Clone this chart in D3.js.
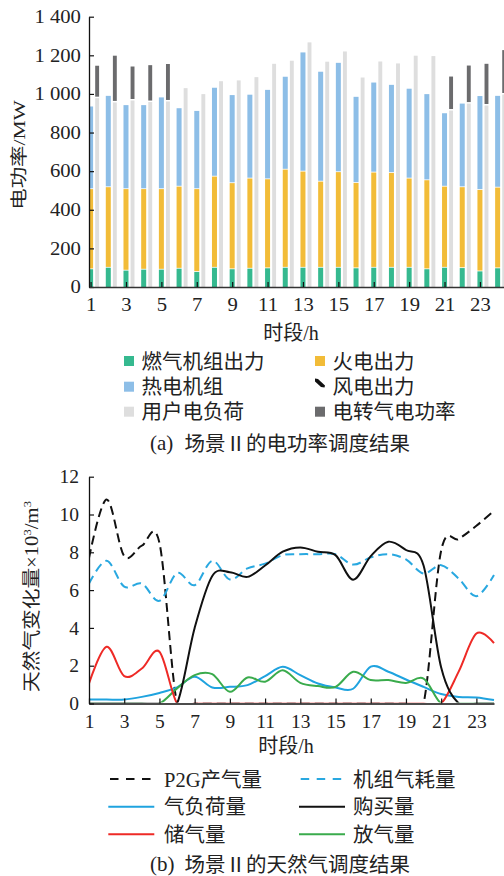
<!DOCTYPE html>
<html>
<head>
<meta charset="utf-8">
<script src="https://cdn.jsdelivr.net/npm/d3@7"></script>
<style>
body { margin: 0; background: #fff; }
svg { display: block; }
text { font-family: "Liberation Serif", "Noto Sans CJK SC", serif; fill: #222; }
</style>
</head>
<body>
<div id="chart"></div>
<script>
// ---- (a) electric power dispatch, MW ----
var hours = [1, 2, 3, 4, 5, 6, 7, 8, 9, 10, 11, 12, 13, 14, 15, 16, 17, 18, 19, 20, 21, 22, 23, 24];
var gasTurbine = [92, 100, 85, 90, 90, 95, 78, 100, 92, 95, 97, 100, 100, 100, 100, 97, 100, 100, 100, 92, 100, 98, 81, 97];
var thermalPower = [415, 417, 422, 417, 417, 425, 429, 472, 446, 467, 461, 508, 498, 446, 495, 442, 493, 491, 462, 461, 420, 419, 422, 418];
var chpUnit = [428, 473, 435, 435, 475, 406, 405, 460, 456, 434, 463, 481, 617, 569, 566, 446, 466, 456, 465, 446, 380, 433, 486, 475];
var windPower = [0, 0, 0, 0, 0, 0, 0, 0, 0, 0, 0, 0, 0, 0, 0, 0, 0, 0, 0, 0, 0, 0, 0, 0];
var userLoad = [978, 956, 966, 958, 961, 1030, 999, 1066, 1070, 1087, 1156, 1172, 1267, 1167, 1220, 1085, 1168, 1158, 1198, 1196, 914, 950, 940, 997];
var p2gPower = [168, 242, 176, 191, 194, 0, 0, 0, 0, 0, 0, 0, 0, 0, 0, 0, 0, 0, 0, 0, 176, 197, 216, 230];
var yTicksA = [0, 200, 400, 600, 800, 1000, 1200, 1400];
var yTickLabelsA = ["0", "200", "400", "600", "800", "1 000", "1 200", "1 400"];
var xTicks = [1, 3, 5, 7, 9, 11, 13, 15, 17, 19, 21, 23];

// ---- (b) natural gas dispatch, 10^3 m^3 ----
var p2gGas = [7.7, 10.8, 7.8, 8.35, 8.5, 0, 0, 0, 0, 0, 0, 0, 0, 0, 0, 0, 0, 0, 0, 0, 8.1, 8.7, 9.4, 10.2];
var unitGas = [6.35, 7.55, 6.18, 6.35, 5.43, 6.9, 6.26, 7.55, 6.56, 7.15, 7.4, 7.85, 7.9, 7.9, 7.9, 7.35, 7.73, 7.9, 7.62, 6.88, 7.32, 6.6, 5.68, 6.8];
var gasLoad = [0.21, 0.21, 0.21, 0.35, 0.56, 0.85, 1.41, 0.85, 0.88, 0.97, 1.45, 1.94, 1.5, 1.06, 0.85, 0.78, 1.95, 1.68, 1.27, 0.88, 0.5, 0.35, 0.32, 0.18];
var purchase = [0, 0, 0, 0, 0, 0, 4.0, 6.75, 6.95, 6.7, 7.3, 8.03, 8.26, 8.03, 7.85, 6.55, 7.8, 8.56, 8.12, 7.3, 1.9, 0, 0, 0];
var storage = [1.06, 3.0, 1.45, 1.85, 2.74, 0, 0, 0, 0, 0, 0, 0, 0, 0, 0, 0, 0, 0, 0, 0, 0, 1.7, 3.7, 3.2];
var release = [0, 0, 0, 0, 0, 0.8, 1.5, 1.55, 0.62, 1.38, 1.15, 1.76, 1.09, 0.92, 0.88, 1.68, 1.24, 1.24, 1.09, 1.32, 0, 0, 0, 0];
var yTicksB = [0, 2, 4, 6, 8, 10, 12];

var svg = d3.select("#chart").append("svg")
  .attr("width", 504)
  .attr("height", 876);

// ================= (a) =================
var xa = d3.scaleLinear().domain([0.91, 24.36]).range([89, 504]);
var ya = d3.scaleLinear().domain([0, 1400]).range([287, 16.7]);

svg.append("clipPath").attr("id", "clipA")
  .append("rect").attr("x", 89).attr("y", 0).attr("width", 415).attr("height", 287);

var rows = hours.map(function(h, i) {
  return { hour: h, gas: gasTurbine[i], thermal: thermalPower[i], chp: chpUnit[i], wind: windPower[i] };
});
var series = d3.stack().keys(["gas", "thermal", "chp", "wind"])(rows);
var colorA = { gas: "#35b98f", thermal: "#f2bc38", chp: "#8dbee7", wind: "#111" };

var gA = svg.append("g").attr("clip-path", "url(#clipA)");

series.forEach(function(s) {
  gA.selectAll(null)
    .data(s.filter(function(d) { return d[1] > d[0]; }))
    .enter().append("rect")
    .attr("x", function(d) { return xa(d.data.hour) - 2.5; })
    .attr("width", 5)
    .attr("y", function(d) { return ya(d[1]); })
    .attr("height", function(d) { return ya(d[0]) - ya(d[1]) - (d[0] > 0 ? 0.8 : 0); })
    .attr("fill", colorA[s.key]);
});

// user load bars
gA.selectAll(".load")
  .data(hours)
  .enter().append("rect")
  .attr("class", "load")
  .attr("x", function(h) { return xa(h) + 4.6; })
  .attr("width", 3.9)
  .attr("y", function(h, i) { return ya(userLoad[i]); })
  .attr("height", function(h, i) { return ya(0) - ya(userLoad[i]); })
  .attr("fill", "#dedede");

// power-to-gas bars on top of the load
gA.selectAll(".p2g")
  .data(hours.filter(function(h, i) { return p2gPower[i] > 0; }))
  .enter().append("rect")
  .attr("class", "p2g")
  .attr("x", function(h) { return xa(h) + 4.6; })
  .attr("width", 3.9)
  .attr("y", function(h) { var i = h - 1; return ya(userLoad[i] + p2gPower[i]); })
  .attr("height", function(h) { var i = h - 1; return ya(userLoad[i]) - ya(userLoad[i] + p2gPower[i]) - 1.5; })
  .attr("fill", "#6b6b6d");

// axes (a)
var yAxA = svg.append("g")
  .attr("transform", "translate(89,0)")
  .call(d3.axisLeft(ya).tickValues(yTicksA)
    .tickFormat(function(d, i) { return yTickLabelsA[i]; })
    .tickSize(-5).tickPadding(7).tickSizeOuter(0));
yAxA.attr("font-family", null).attr("font-size", null);
yAxA.select(".domain").attr("stroke", "#111").attr("stroke-width", 1.3);
yAxA.selectAll("line").attr("stroke", "#111").attr("stroke-width", 1.2);
yAxA.selectAll("text").style("font-size", "18px").attr("transform", "scale(1.15,1)");

var xAxA = svg.append("g")
  .attr("transform", "translate(0,287)")
  .call(d3.axisBottom(xa).tickValues(xTicks).tickFormat(d3.format("d"))
    .tickSize(-5).tickPadding(11).tickSizeOuter(0));
xAxA.attr("font-family", null).attr("font-size", null);
xAxA.select(".domain").attr("stroke", "#333").attr("stroke-width", 1.6);
xAxA.selectAll("line").attr("stroke", "#111").attr("stroke-width", 1.2);
xAxA.selectAll("text").style("font-size", "18px").attr("transform", "scale(1.15,1)");

svg.append("text")
  .attr("transform", "translate(24.5,155) rotate(-90) scale(1.3,1)")
  .attr("text-anchor", "middle")
  .style("font-size", "16.5px")
  .text("电功率/MW");

svg.append("text")
  .attr("x", 291).attr("y", 339.5)
  .attr("text-anchor", "middle")
  .style("font-size", "20px")
  .text("时段/h");

// legend (a)
var legendA = [
  { label: "燃气机组出力", color: "#35b98f", col: 0, row: 0 },
  { label: "火电出力", color: "#f2bc38", col: 1, row: 0 },
  { label: "热电机组", color: "#8dbee7", col: 0, row: 1 },
  { label: "风电出力", color: null, col: 1, row: 1 },
  { label: "用户电负荷", color: "#dedede", col: 0, row: 2 },
  { label: "电转气电功率", color: "#6b6b6d", col: 1, row: 2 }
];
var rowYA = [361, 386.7, 411.7];
var colXA = [124, 315];
legendA.forEach(function(d) {
  var x = colXA[d.col], y = rowYA[d.row];
  if (d.color) {
    svg.append("rect").attr("x", x).attr("y", y - 5).attr("width", 10).attr("height", 10).attr("fill", d.color);
  } else {
    svg.append("path")
      .attr("d", "M" + x + "," + (y - 8.2) + " l3,0.5 l7,6.5 l-0.5,2 l-3.5,-0.5 l-6,-5.5 z")
      .attr("fill", "#111");
  }
  svg.append("text")
    .attr("x", x + 17.5).attr("y", y + 7.5)
    .style("font-size", "20.5px")
    .text(d.label);
});

svg.append("text").attr("x", 150).attr("y", 450).style("font-size", "21px").text("(a)");
svg.append("text").attr("x", 184.5).attr("y", 451).style("font-size", "20.5px").text("场景Ⅱ的电功率调度结果");

// ================= (b) =================
var xb = d3.scaleLinear().domain([1, 24]).range([89, 494]);
var yb = d3.scaleLinear().domain([0, 12]).range([703.5, 476.7]);

svg.append("clipPath").attr("id", "clipB")
  .append("rect").attr("x", 89).attr("y", 470).attr("width", 410).attr("height", yb(0) - 1 - 470);

var line = d3.line()
  .x(function(d, i) { return xb(hours[i]); })
  .y(function(d) { return yb(d); })
  .curve(d3.curveCardinal.tension(0));

var linesB = [
  { values: p2gGas, color: "#111", dash: "9,5" },
  { values: unitGas, color: "#29a8e0", dash: "9,5" },
  { values: gasLoad, color: "#1fa3df", dash: null },
  { values: release, color: "#3aab4c", dash: null },
  { values: storage, color: "#ee2a26", dash: null },
  { values: purchase, color: "#111", dash: null }
];

var gB = svg.append("g").attr("clip-path", "url(#clipB)");
linesB.forEach(function(s) {
  gB.append("path")
    .attr("d", line(s.values))
    .attr("fill", "none")
    .attr("stroke", s.color)
    .attr("stroke-width", 2)
    .attr("stroke-dasharray", s.dash);
});

var yAxB = svg.append("g")
  .attr("transform", "translate(89,0)")
  .call(d3.axisLeft(yb).tickValues(yTicksB).tickFormat(d3.format("d"))
    .tickSize(-5).tickPadding(10).tickSizeOuter(0));
yAxB.attr("font-family", null).attr("font-size", null);
yAxB.select(".domain").attr("stroke", "#111").attr("stroke-width", 1.3);
yAxB.selectAll("line").attr("stroke", "#111").attr("stroke-width", 1.2);
yAxB.selectAll("text").style("font-size", "19.5px");

var xAxB = svg.append("g")
  .attr("transform", "translate(0," + yb(0) + ")")
  .call(d3.axisBottom(xb).tickValues(xTicks).tickFormat(d3.format("d"))
    .tickSize(-5).tickPadding(10.5).tickSizeOuter(0));
xAxB.attr("font-family", null).attr("font-size", null);
xAxB.select(".domain").attr("stroke", "#111").attr("stroke-width", 1.3);
xAxB.selectAll("line").attr("stroke", "#111").attr("stroke-width", 1.2);
xAxB.selectAll("text").style("font-size", "19.5px");

var yTitleB = svg.append("text")
  .attr("transform", "translate(38,596.5) rotate(-90) scale(1.15,1)")
  .attr("text-anchor", "middle")
  .style("font-size", "18px");
yTitleB.append("tspan").text("天然气变化量×10");
yTitleB.append("tspan").attr("dy", -7).style("font-size", "11px").text("3");
yTitleB.append("tspan").attr("dy", 7).text("/m");
yTitleB.append("tspan").attr("dy", -7).style("font-size", "11px").text("3");

svg.append("text")
  .attr("x", 286).attr("y", 752.5)
  .attr("text-anchor", "middle")
  .style("font-size", "20px")
  .text("时段/h");

// legend (b)
var legendB = [
  { label: "P2G产气量", color: "#111", dash: true, col: 0, row: 0 },
  { label: "机组气耗量", color: "#29a8e0", dash: true, col: 1, row: 0 },
  { label: "气负荷量", color: "#1fa3df", dash: false, col: 0, row: 1 },
  { label: "购买量", color: "#111", dash: false, col: 1, row: 1 },
  { label: "储气量", color: "#ee2a26", dash: false, col: 0, row: 2 },
  { label: "放气量", color: "#3aab4c", dash: false, col: 1, row: 2 }
];
var rowYB = [779, 806.7, 834.3];
var colXB = [108.3, 299];
var textXB = [164, 353];
legendB.forEach(function(d) {
  var x = colXB[d.col], y = rowYB[d.row];
  svg.append("line")
    .attr("x1", d.dash ? x + 1.7 : x).attr("x2", d.dash ? x + 42.5 : x + 46)
    .attr("y1", y).attr("y2", y)
    .attr("stroke", d.color).attr("stroke-width", 2)
    .attr("stroke-dasharray", d.dash ? "8.5,7.5" : null);
  svg.append("text")
    .attr("x", textXB[d.col]).attr("y", y + 7.5)
    .style("font-size", "20.5px")
    .text(d.label);
});

svg.append("text").attr("x", 150).attr("y", 871).style("font-size", "21px").text("(b)");
svg.append("text").attr("x", 184.5).attr("y", 872).style("font-size", "20.5px").text("场景Ⅱ的天然气调度结果");
</script>
</body>
</html>
